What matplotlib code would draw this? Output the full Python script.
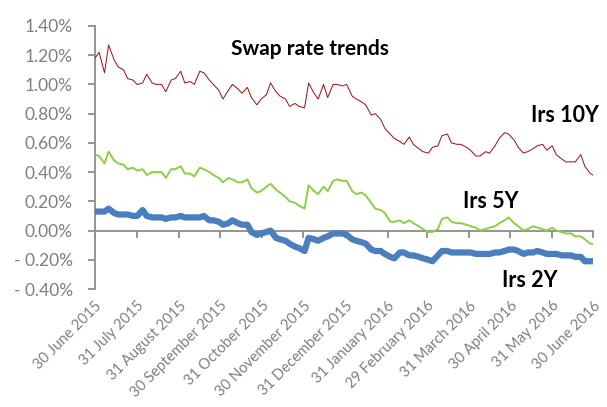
import matplotlib
matplotlib.use("Agg")
import matplotlib.pyplot as plt
import matplotlib.dates as mdates
from matplotlib.ticker import FuncFormatter, MultipleLocator
import pandas as pd

plt.rcParams['font.family'] = ['Lato', 'DejaVu Sans']

dates = [
    "2015-06-30", "2015-07-03", "2015-07-07", "2015-07-10", "2015-07-14", "2015-07-17",
    "2015-07-21", "2015-07-24", "2015-07-28", "2015-07-31", "2015-08-04", "2015-08-07",
    "2015-08-11", "2015-08-14", "2015-08-18", "2015-08-21", "2015-08-25", "2015-08-28",
    "2015-09-01", "2015-09-04", "2015-09-08", "2015-09-11", "2015-09-15", "2015-09-18",
    "2015-09-22", "2015-09-25", "2015-09-29", "2015-10-02", "2015-10-06", "2015-10-09",
    "2015-10-13", "2015-10-16", "2015-10-20", "2015-10-23", "2015-10-27", "2015-10-30",
    "2015-11-03", "2015-11-06", "2015-11-10", "2015-11-13", "2015-11-17", "2015-11-20",
    "2015-11-24", "2015-11-27", "2015-12-01", "2015-12-04", "2015-12-08", "2015-12-11",
    "2015-12-15", "2015-12-18", "2015-12-22", "2015-12-25", "2015-12-29", "2016-01-01",
    "2016-01-05", "2016-01-08", "2016-01-12", "2016-01-15", "2016-01-19", "2016-01-22",
    "2016-01-26", "2016-01-29", "2016-02-02", "2016-02-05", "2016-02-09", "2016-02-12",
    "2016-02-16", "2016-02-19", "2016-02-23", "2016-02-26", "2016-03-01", "2016-03-04",
    "2016-03-08", "2016-03-11", "2016-03-15", "2016-03-18", "2016-03-22", "2016-03-25",
    "2016-03-29", "2016-04-01", "2016-04-05", "2016-04-08", "2016-04-12", "2016-04-15",
    "2016-04-19", "2016-04-22", "2016-04-26", "2016-04-29", "2016-05-03", "2016-05-06",
    "2016-05-10", "2016-05-13", "2016-05-17", "2016-05-20", "2016-05-24", "2016-05-27",
    "2016-05-31", "2016-06-03", "2016-06-07", "2016-06-10", "2016-06-14", "2016-06-17",
    "2016-06-21", "2016-06-24", "2016-06-28", "2016-06-30",
]

# values in percent
irs_10y = [
    1.18, 1.22, 1.08, 1.27, 1.17, 1.12, 1.10, 1.04, 1.03, 1.00, 1.01, 1.07,
    1.01, 1.00, 1.00, 0.95, 1.03, 1.04, 1.09, 1.01, 1.02, 1.00, 1.09, 1.08,
    1.03, 1.00, 0.96, 0.90, 0.96, 1.00, 0.97, 0.94, 0.98, 0.91, 0.86, 0.90,
    0.93, 1.01, 0.95, 0.92, 0.90, 0.85, 0.87, 0.85, 0.84, 1.01, 0.94, 0.90,
    1.00, 0.91, 1.00, 1.00, 0.99, 1.00, 0.92, 0.90, 0.88, 0.86, 0.79, 0.80,
    0.76, 0.70, 0.66, 0.63, 0.61, 0.59, 0.64, 0.59, 0.56, 0.54, 0.53, 0.57,
    0.58, 0.65, 0.66, 0.60, 0.59, 0.59, 0.57, 0.55, 0.51, 0.51, 0.54, 0.53,
    0.58, 0.63, 0.67, 0.66, 0.62, 0.57, 0.53, 0.54, 0.56, 0.58, 0.59, 0.55,
    0.58, 0.52, 0.49, 0.47, 0.47, 0.47, 0.52, 0.44, 0.39, 0.38,
]
irs_5y = [
    0.52, 0.51, 0.46, 0.54, 0.48, 0.46, 0.45, 0.42, 0.43, 0.41, 0.42, 0.38,
    0.40, 0.40, 0.40, 0.36, 0.42, 0.42, 0.44, 0.39, 0.39, 0.37, 0.43, 0.42,
    0.40, 0.38, 0.36, 0.33, 0.36, 0.35, 0.33, 0.33, 0.35, 0.29, 0.26, 0.27,
    0.30, 0.32, 0.28, 0.26, 0.23, 0.20, 0.19, 0.17, 0.15, 0.31, 0.27, 0.25,
    0.30, 0.27, 0.34, 0.35, 0.34, 0.34, 0.27, 0.25, 0.26, 0.24, 0.19, 0.15,
    0.14, 0.12, 0.06, 0.06, 0.07, 0.05, 0.07, 0.05, 0.03, 0.01, -0.01, -0.01,
    0.01, 0.08, 0.09, 0.06, 0.05, 0.05, 0.04, 0.03, 0.02, 0.00, 0.01, 0.02,
    0.03, 0.05, 0.07, 0.09, 0.05, 0.03, 0.00, 0.01, 0.03, 0.02, 0.01, 0.00,
    0.02, 0.00, -0.01, -0.02, -0.02, -0.04, -0.04, -0.06, -0.09, -0.09,
]
irs_2y = [
    0.13, 0.13, 0.13, 0.15, 0.12, 0.11, 0.11, 0.11, 0.10, 0.10, 0.14, 0.10,
    0.09, 0.09, 0.09, 0.08, 0.09, 0.09, 0.10, 0.09, 0.09, 0.09, 0.09, 0.10,
    0.07, 0.07, 0.06, 0.04, 0.05, 0.07, 0.05, 0.04, 0.04, -0.01, -0.03, -0.02,
    -0.01, 0.00, -0.05, -0.06, -0.07, -0.09, -0.11, -0.12, -0.14, -0.05, -0.06, -0.07,
    -0.05, -0.04, -0.02, -0.02, -0.02, -0.03, -0.06, -0.07, -0.08, -0.09, -0.13, -0.14,
    -0.14, -0.16, -0.18, -0.19, -0.15, -0.15, -0.17, -0.17, -0.18, -0.19, -0.20, -0.21,
    -0.17, -0.14, -0.14, -0.15, -0.15, -0.15, -0.15, -0.15, -0.16, -0.16, -0.16, -0.16,
    -0.15, -0.15, -0.14, -0.13, -0.13, -0.14, -0.16, -0.15, -0.15, -0.14, -0.15, -0.16,
    -0.16, -0.16, -0.17, -0.17, -0.17, -0.18, -0.18, -0.21, -0.21, -0.21,
]

tick_dates = ["2015-06-30", "2015-07-31", "2015-08-31", "2015-09-30", "2015-10-31",
              "2015-11-30", "2015-12-31", "2016-01-31", "2016-02-29", "2016-03-31",
              "2016-04-30", "2016-05-31", "2016-06-30"]
tick_labels = ["30 June 2015", "31 July 2015", "31 August 2015", "30 September 2015",
               "31 October 2015", "30 November 2015", "31 December 2015",
               "31 January 2016", "29 February 2016", "31 March 2016",
               "30 April 2016", "31 May 2016", "30 June 2016"]

title = "Swap rate trends"
series_names = ["Irs 10Y", "Irs 5Y", "Irs 2Y"]

W, H = 607, 407
fig = plt.figure(figsize=(W / 100, H / 100), dpi=100)
ax = fig.add_axes([95 / W, (H - 289) / H, (593 - 95) / W, (289 - 26) / H])

x = pd.to_datetime(dates)
axis_col = "#8c8c8c"
text_col = "#7f7f7f"

ax.plot(x, irs_10y, color="#9e1b1b", lw=0.75, zorder=3)
ax.plot(x, irs_5y, color="#8ccf44", lw=1.4, zorder=3)
ax.plot(x, irs_2y, color="#4a7ebf", lw=4.5, solid_capstyle="butt", zorder=3)

ax.set_ylim(-0.4, 1.4)
ax.set_xlim(pd.Timestamp("2015-06-30"), pd.Timestamp("2016-06-30"))
ax.yaxis.set_major_locator(MultipleLocator(0.2))


def pct(v, pos):
    if abs(v) < 1e-9:
        return "0.00%"
    if v < 0:
        return "- %.2f%%" % abs(v)
    return "%.2f%%" % v


ax.yaxis.set_major_formatter(FuncFormatter(pct))

for s in ["top", "right"]:
    ax.spines[s].set_visible(False)
ax.spines["left"].set_color(axis_col)
ax.spines["left"].set_linewidth(1.3)
ax.spines["bottom"].set_position(("data", 0))
ax.spines["bottom"].set_color(axis_col)
ax.spines["bottom"].set_linewidth(1.3)

ax.tick_params(axis="y", direction="out", length=5, width=1.3, color=axis_col,
               labelcolor=text_col, labelsize=12.5, pad=11)
tpos = pd.to_datetime(tick_dates)
ax.set_xticks(tpos)
ax.tick_params(axis="x", direction="out", length=5, width=1.3, color=axis_col,
               labelbottom=False)

sec = ax.secondary_xaxis(0)
sec.spines["bottom"].set_visible(False)
sec.set_xticks(tpos)
sec.set_xticklabels(tick_labels, rotation=45, ha="right", va="top",
                    rotation_mode="anchor")
sec.tick_params(axis="x", length=0, pad=7, labelcolor=text_col, labelsize=10.6)

fig.text(231 / W, 1 - 55 / H, title, fontsize=15, fontweight="bold", color="black",
         ha="left", va="baseline")
fig.text(531 / W, 1 - 122 / H, series_names[0], fontsize=15.5, fontweight="bold",
         color="black", ha="left", va="baseline")
fig.text(463 / W, 1 - 208 / H, series_names[1], fontsize=15.5, fontweight="bold",
         color="black", ha="left", va="baseline")
fig.text(502 / W, 1 - 287 / H, series_names[2], fontsize=15.5, fontweight="bold",
         color="black", ha="left", va="baseline")

fig.savefig("out.png", dpi=100)
